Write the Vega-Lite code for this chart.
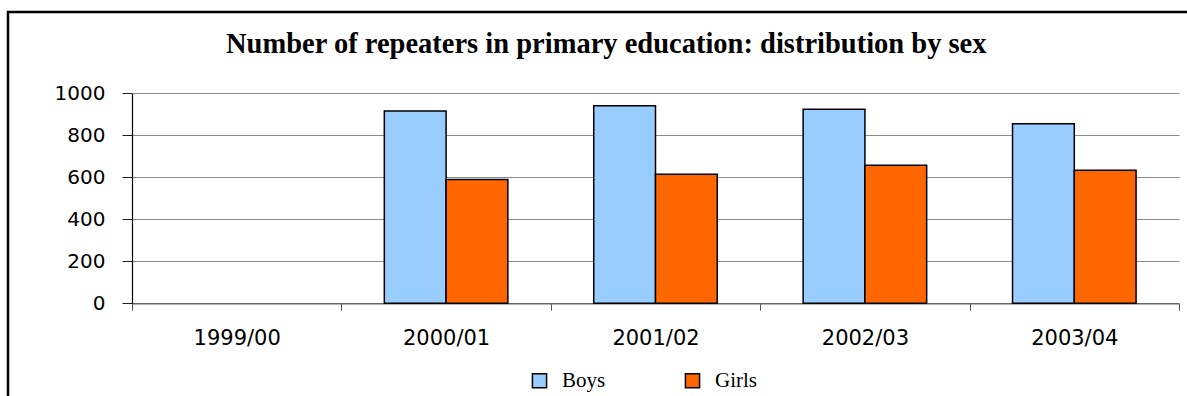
{
  "$schema": "https://vega.github.io/schema/vega-lite/v6.json",
  "autosize": "none",
  "width": 1179,
  "height": 384,
  "padding": {"left": 8, "top": 12, "right": 0, "bottom": 0},
  "background": "white",
  "view": {"stroke": "black", "strokeWidth": 2.5, "strokeDash": [1179, 1563, 384]},
  "title": {
    "text": "Number of repeaters in primary education: distribution by sex",
    "font": "Liberation Serif",
    "fontSize": 28.5,
    "fontWeight": "bold",
    "color": "black",
    "anchor": "start",
    "frame": "group",
    "dx": 218,
    "offset": -46
  },
  "data": {
    "values": [
      {"year": "2000/01", "sex": "Boys", "value": 916},
      {"year": "2000/01", "sex": "Girls", "value": 590},
      {"year": "2001/02", "sex": "Boys", "value": 941},
      {"year": "2001/02", "sex": "Girls", "value": 614},
      {"year": "2002/03", "sex": "Boys", "value": 924},
      {"year": "2002/03", "sex": "Girls", "value": 657},
      {"year": "2003/04", "sex": "Boys", "value": 855},
      {"year": "2003/04", "sex": "Girls", "value": 633}
    ]
  },
  "mark": {"type": "bar", "stroke": "black", "strokeWidth": 1.5},
  "encoding": {
    "x": {
      "field": "year",
      "type": "nominal",
      "scale": {
        "domain": ["1999/00", "2000/01", "2001/02", "2002/03", "2003/04"],
        "range": [124, 1171],
        "paddingInner": 0,
        "paddingOuter": 0
      },
      "axis": {
        "title": null,
        "offset": -92.7,
        "labelAngle": 0,
        "labelFont": "DejaVu Sans",
        "labelFontSize": 21,
        "labelColor": "black",
        "labelPadding": 17,
        "tickBand": "extent",
        "tickSize": 7,
        "tickColor": "#555555",
        "tickWidth": 1,
        "domainColor": "#666666",
        "domainWidth": 1.5,
        "grid": false
      }
    },
    "xOffset": {
      "field": "sex",
      "type": "nominal",
      "scale": {"domain": ["Boys", "Girls"], "paddingInner": 0, "paddingOuter": 0.695}
    },
    "y": {
      "field": "value",
      "type": "quantitative",
      "scale": {"domain": [0, 1000], "nice": false, "range": [291.3, 81.3]},
      "axis": {
        "title": null,
        "offset": -124,
        "values": [0, 200, 400, 600, 800, 1000],
        "format": "d",
        "labelFont": "DejaVu Sans",
        "labelFontSize": 20,
        "labelColor": "black",
        "labelPadding": 17,
        "tickSize": 10,
        "tickColor": "#222222",
        "domainColor": "black",
        "domainWidth": 1.2,
        "grid": true,
        "gridColor": "#8c8c8c",
        "gridWidth": 1
      }
    },
    "color": {
      "field": "sex",
      "type": "nominal",
      "scale": {"domain": ["Boys", "Girls"], "range": ["#99ccff", "#ff6600"]},
      "legend": {
        "title": null,
        "orient": "none",
        "direction": "horizontal",
        "legendX": 521,
        "legendY": 358,
        "symbolType": "square",
        "symbolSize": 200,
        "symbolStrokeColor": "black",
        "symbolStrokeWidth": 1.5,
        "symbolOpacity": 1,
        "labelFont": "Liberation Serif",
        "labelFontSize": 21,
        "labelColor": "black",
        "labelOffset": 12,
        "columnPadding": 76
      }
    }
  }
}
